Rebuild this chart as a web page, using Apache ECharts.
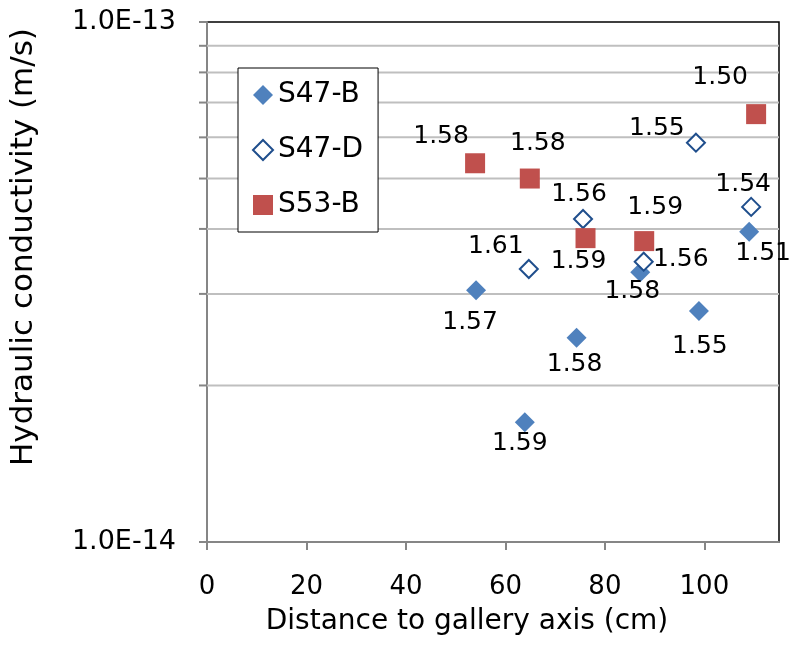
<!DOCTYPE html>
<html>
<head>
<meta charset="utf-8">
<script src="https://cdn.jsdelivr.net/npm/echarts@6/dist/echarts.min.js"></script>
<style>
  html, body { margin: 0; padding: 0; background: #fff; }
  #chart { width: 790px; height: 664px; }
</style>
</head>
<body>
<div id="chart"></div>
<script>
// ---- Data ----
const seriesNames = ['S47-B', 'S47-D', 'S53-B'];

const s47bX = [54.1, 63.9, 74.3, 87.1, 98.9, 109.0];
const s47bY = [3.05e-14, 1.70e-14, 2.47e-14, 3.30e-14, 2.78e-14, 3.95e-14];
const s47bLabels = ['1.57', '1.59', '1.58', '1.58', '1.55', '1.51'];

const s47dX = [64.7, 75.6, 87.8, 98.3, 109.4];
const s47dY = [3.35e-14, 4.18e-14, 3.46e-14, 5.86e-14, 4.41e-14];
const s47dLabels = ['1.61', '1.56', '1.56', '1.55', '1.54'];

const s53bX = [53.9, 64.9, 76.1, 87.9, 110.4];
const s53bY = [5.35e-14, 5.00e-14, 3.84e-14, 3.79e-14, 6.65e-14];
const s53bLabels = ['1.58', '1.58', '1.59', '1.59', '1.50'];

const xTicks = [0, 20, 40, 60, 80, 100];
const yMinorTicks = [2e-14, 3e-14, 4e-14, 5e-14, 6e-14, 7e-14, 8e-14, 9e-14];

// ---- Styling (label offsets relative to marker centre) ----
const s47bLabelOffsets = [[-6, 32], [-5, 21], [-2, 27], [-8, 19], [1, 35], [14, 22]];
const s47dLabelOffsets = [[-33, -22], [-4, -24], [37, -2], [-39, -14], [-8, -22]];
const s53bLabelOffsets = [[-34, -27], [8, -35], [-7, 23], [11, -34], [-36, -37]];

const FONT = 'DejaVu Sans';
const AXIS_GRAY = '#868686';
const GRID_GRAY = '#BFBFBF';

function buildData(xs, ys, labels, offsets) {
  return xs.map((x, i) => ({
    value: [x, ys[i], labels[i]],
    label: { offset: offsets[i] }
  }));
}

const labelStyle = {
  show: true,
  position: 'inside',
  formatter: p => p.value[2],
  color: '#000',
  opacity: 1,
  fontFamily: FONT,
  fontSize: 25,
  align: 'center',
  verticalAlign: 'middle'
};

const chart = echarts.init(document.getElementById('chart'), null, { renderer: 'canvas' });

const option = {
  animation: false,
  backgroundColor: '#fff',
  textStyle: { fontFamily: FONT, color: '#000' },
  grid: {
    left: 205, right: 11, top: 22, bottom: 122,
    show: true, borderColor: '#000', borderWidth: 1.5, backgroundColor: 'transparent'
  },
  legend: {
    orient: 'vertical',
    left: 238, top: 68,
    padding: [13, 15, 13, 14],
    itemGap: 27,
    itemWidth: 20, itemHeight: 20,
    borderColor: '#000', borderWidth: 1,
    backgroundColor: '#fff',
    data: seriesNames,
    textStyle: { fontFamily: FONT, fontSize: 28, color: '#000' }
  },
  xAxis: {
    type: 'value',
    min: 0, max: 115,
    name: 'Distance to gallery axis (cm)',
    nameLocation: 'middle',
    nameGap: 66,
    nameTextStyle: { fontFamily: FONT, fontSize: 28, color: '#000', padding: [0, 52, 0, 0] },
    axisLine: { show: true, onZero: false, lineStyle: { color: AXIS_GRAY, width: 2 } },
    axisTick: { show: true, customValues: xTicks, length: 8, lineStyle: { color: AXIS_GRAY, width: 2 } },
    axisLabel: { customValues: xTicks, margin: 32, fontFamily: FONT, fontSize: 26, color: '#000' },
    splitLine: { show: false }
  },
  yAxis: {
    type: 'log',
    logBase: 10,
    min: 1e-14, max: 1e-13,
    name: 'Hydraulic conductivity (m/s)',
    nameLocation: 'middle',
    nameGap: 168,
    nameTextStyle: { fontFamily: FONT, fontSize: 31, color: '#000', padding: [0, 0, 0, 70] },
    axisLine: { show: true, lineStyle: { color: AXIS_GRAY, width: 2 } },
    axisTick: { show: true, length: 8, lineStyle: { color: AXIS_GRAY, width: 2 } },
    axisLabel: {
      margin: 31, fontFamily: FONT, fontSize: 27, color: '#000',
      formatter: v => Number(v).toExponential(1).toUpperCase()
    },
    splitLine: { show: false }
  },
  series: [
    {
      name: 'minorGrid',
      type: 'custom',
      silent: true,
      z: 1,
      clip: false,
      data: yMinorTicks.map(v => [0, v]),
      encode: { x: 0, y: 1 },
      renderItem: function (params, api) {
        const cs = params.coordSys;
        const y = api.coord([0, api.value(1)])[1];
        return {
          type: 'group',
          children: [
            { type: 'line', shape: { x1: cs.x, y1: y, x2: cs.x + cs.width, y2: y },
              style: { stroke: GRID_GRAY, lineWidth: 2 } },
            { type: 'line', shape: { x1: cs.x - 8, y1: y, x2: cs.x, y2: y },
              style: { stroke: AXIS_GRAY, lineWidth: 2 } }
          ]
        };
      }
    },
    {
      name: 'S47-B',
      type: 'scatter',
      symbol: 'diamond',
      symbolSize: 20,
      z: 3,
      itemStyle: { color: '#4F81BD', opacity: 1 },
      label: labelStyle,
      data: buildData(s47bX, s47bY, s47bLabels, s47bLabelOffsets)
    },
    {
      name: 'S47-D',
      type: 'scatter',
      symbol: 'diamond',
      symbolSize: 18,
      z: 4,
      itemStyle: { color: '#ffffff', borderColor: '#1F4E8C', borderWidth: 2, opacity: 1 },
      label: labelStyle,
      data: buildData(s47dX, s47dY, s47dLabels, s47dLabelOffsets)
    },
    {
      name: 'S53-B',
      type: 'scatter',
      symbol: 'rect',
      symbolSize: 20,
      z: 5,
      itemStyle: { color: '#C0504D', opacity: 1 },
      label: labelStyle,
      data: buildData(s53bX, s53bY, s53bLabels, s53bLabelOffsets)
    }
  ]
};

chart.setOption(option);
</script>
</body>
</html>
